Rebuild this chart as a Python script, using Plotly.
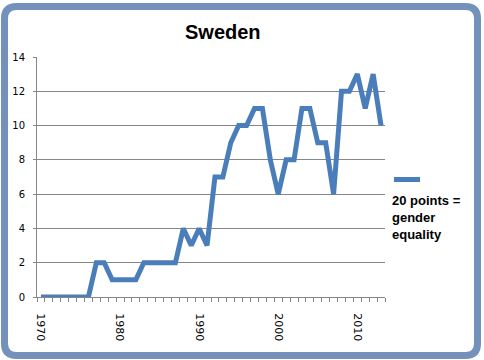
import plotly.graph_objects as go

years = list(range(1970, 2014))
scores = [0, 0, 0, 0, 0, 0, 0, 2, 2, 1,
          1, 1, 1, 2, 2, 2, 2, 2, 4, 3,
          4, 3, 7, 7, 9, 10, 10, 11, 11, 8,
          6, 8, 8, 11, 11, 9, 9, 6, 12, 12,
          13, 11, 13, 10]
y_ticks = list(range(0, 15, 2))
x_ticks = [1970, 1980, 1990, 2000, 2010]
title = "Sweden"
legend_text = "20 points =<br>gender<br>equality"

W, H = 484, 360
L, R, T, B = 37, 385, 57, 297
PW, PH = R - L, B - T

def px(x):
    return (x - L) / PW

def py(y):
    return (B - y) / PH

LINE = "#4A7EBB"
GRID = "#878787"
FRAME = "#7391BA"

fig = go.Figure()
fig.add_trace(go.Scatter(x=years, y=scores, mode="lines",
                         line=dict(color=LINE, width=5),
                         showlegend=False, hoverinfo="skip"))

# rounded frame
x0, x1, y0, y1, r = 4.5, 477.5, 6.5, 355.5, 12
path = (f"M {px(x0+r)},{py(y0)} L {px(x1-r)},{py(y0)} "
        f"Q {px(x1)},{py(y0)} {px(x1)},{py(y0+r)} "
        f"L {px(x1)},{py(y1-r)} Q {px(x1)},{py(y1)} {px(x1-r)},{py(y1)} "
        f"L {px(x0+r)},{py(y1)} Q {px(x0)},{py(y1)} {px(x0)},{py(y1-r)} "
        f"L {px(x0)},{py(y0+r)} Q {px(x0)},{py(y0)} {px(x0+r)},{py(y0)} Z")
shapes = [
    dict(type="path", xref="paper", yref="paper", path=path,
         line=dict(color=FRAME, width=7), layer="above"),
    dict(type="line", xref="paper", yref="paper",
         x0=px(394), x1=px(420), y0=py(179.5), y1=py(179.5),
         line=dict(color=LINE, width=5)),
]

annotations = [
    dict(text=f"<b>{title}</b>", xref="paper", yref="paper",
         x=px(222.5), y=py(32), xanchor="center", yanchor="middle",
         showarrow=False, font=dict(family="Liberation Sans, Arial", size=20, color="#000000")),
    dict(text=f"<b>{legend_text}</b>", xref="paper", yref="paper",
         x=px(390), y=py(191), xanchor="left", yanchor="top", align="left",
         showarrow=False, font=dict(family="Liberation Sans, Arial", size=13, color="#000000")),
]

fig.update_layout(
    width=W, height=H,
    margin=dict(l=L, r=W - R, t=T, b=H - B, pad=0),
    paper_bgcolor="white", plot_bgcolor="white",
    shapes=shapes, annotations=annotations,
    showlegend=False, hovermode=False,
    font=dict(family="DejaVu Sans, Verdana", size=10, color="#000000"),
)
fig.update_xaxes(range=[1969.5, 2013.5], tickmode="array", tickvals=x_ticks,
                 ticktext=[str(v) for v in x_ticks], ticks="", tickangle=90,
                 ticklabelstandoff=13, tickfont=dict(size=11),
                 showgrid=False, zeroline=False, showline=True, linecolor=GRID, linewidth=1,
                 minor=dict(ticks="outside", tick0=1969.5, dtick=1, ticklen=4,
                            tickcolor=GRID, showgrid=False))
fig.update_yaxes(range=[0, 14], tickmode="array", tickvals=y_ticks,
                 ticks="outside", ticklen=3, tickcolor=GRID,
                 ticklabelstandoff=6,
                 showgrid=True, gridcolor=GRID, gridwidth=1, zeroline=False,
                 showline=True, linecolor=GRID, linewidth=1)

fig.write_html("out.html", config={"displayModeBar": False, "staticPlot": True},
               post_script="document.body.style.margin='0';document.body.style.padding='0';document.body.style.overflow='hidden';")
